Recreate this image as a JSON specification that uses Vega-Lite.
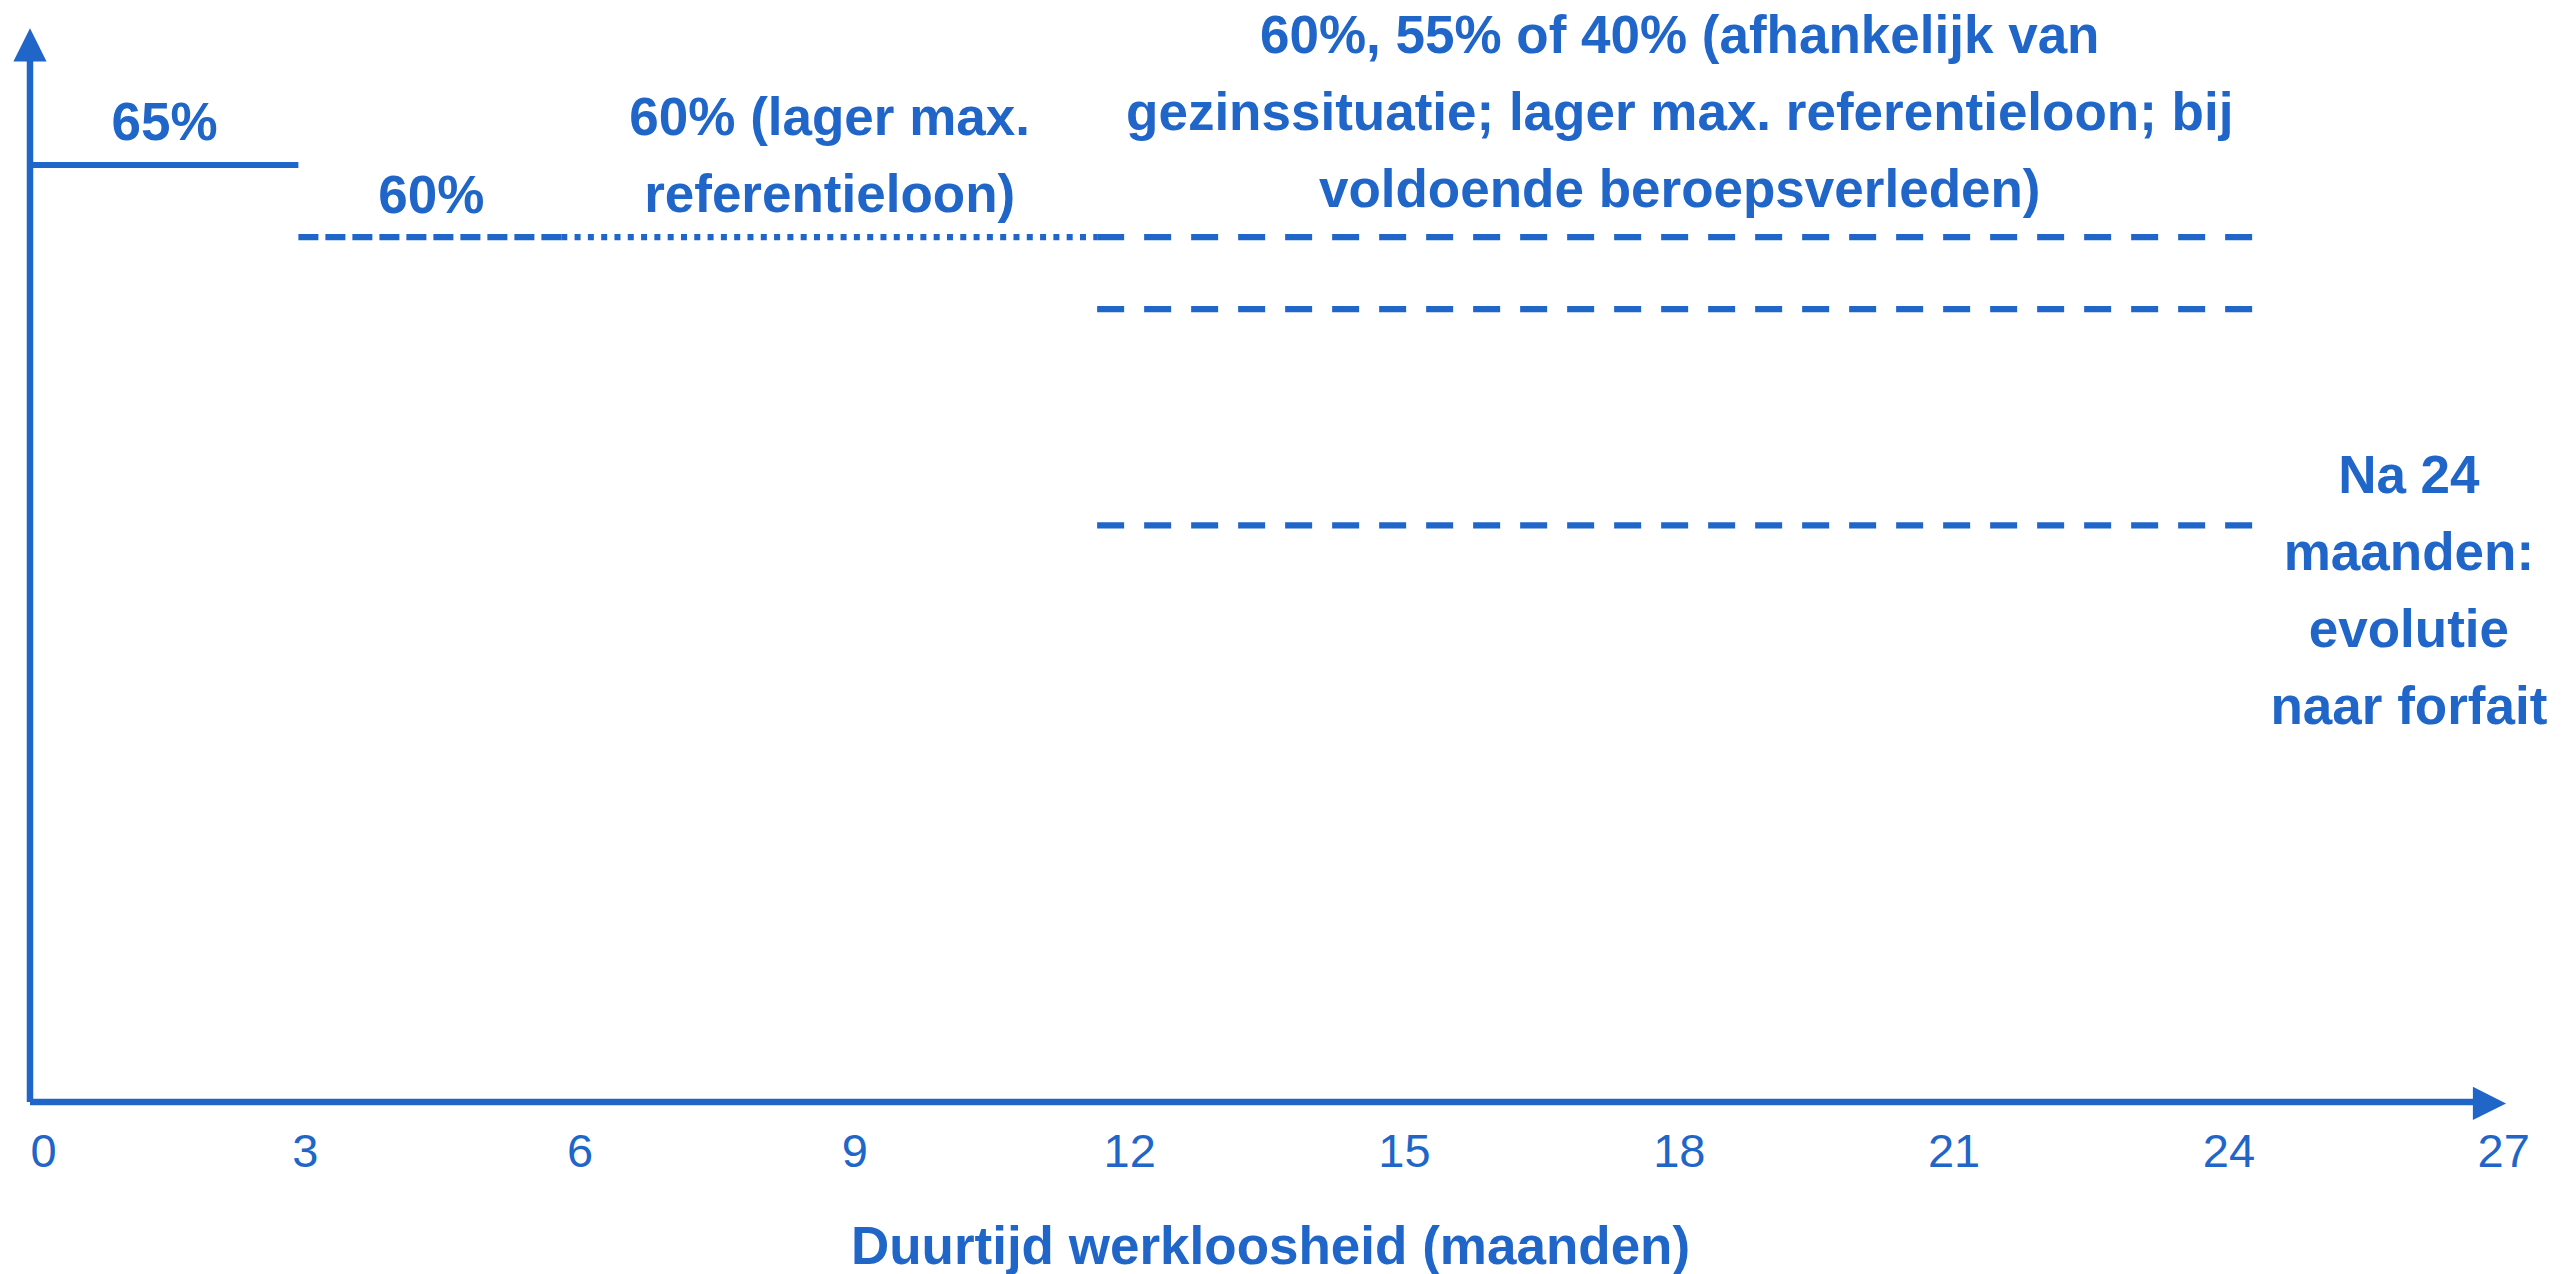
{
  "$schema": "https://vega.github.io/schema/vega-lite/v6.json",
  "width": 2575,
  "height": 1274,
  "autosize": {"type": "none"},
  "padding": 0,
  "background": "white",
  "config": {"view": {"stroke": null}, "font": "Liberation Sans"},
  "datasets": {
    "segments": [
      {"part": "x-as", "style": "solid", "x": 0, "x2": 26.7, "y": 0, "y2": 0, "w": "axis"},
      {"part": "y-as", "style": "solid", "x": 0, "x2": 0, "y": 0, "y2": 72.5, "w": "axis"},
      {"part": "0-3 maanden", "style": "solid", "x": 0, "x2": 2.93, "y": 65, "y2": 65, "w": "line"},
      {"part": "3-6 maanden", "style": "dash", "x": 2.93, "x2": 5.8, "y": 60, "y2": 60, "w": "line"},
      {"part": "6-12 maanden", "style": "dot", "x": 5.8, "x2": 11.65, "y": 60, "y2": 60, "w": "line"},
      {"part": "12-24 maanden 60%", "style": "dash2", "x": 11.65, "x2": 24.28, "y": 60, "y2": 60, "w": "line"},
      {"part": "12-24 maanden 55%", "style": "dash2", "x": 11.65, "x2": 24.28, "y": 55, "y2": 55, "w": "line"},
      {"part": "12-24 maanden 40%", "style": "dash2", "x": 11.65, "x2": 24.28, "y": 40, "y2": 40, "w": "line"}
    ],
    "arrows": [
      {"dir": "up", "x": 0, "y": 73.33},
      {"dir": "right", "x": 26.85, "y": -0.1}
    ],
    "labels": [
      {"x": 1.47, "y": 66.74, "text": "65%"},
      {"x": 4.38, "y": 61.67, "text": "60%"},
      {"x": 8.73, "y": 67.08, "text": "60% (lager max.\nreferentieloon)"},
      {"x": 18.01, "y": 72.77, "text": "60%, 55% of 40% (afhankelijk van\ngezinssituatie; lager max. referentieloon; bij\nvoldoende beroepsverleden)"},
      {"x": 25.97, "y": 42.25, "text": "Na 24\nmaanden:\nevolutie\nnaar forfait"}
    ]
  },
  "layer": [
    {
      "data": {"name": "segments"},
      "mark": {"type": "rule", "color": "#2065c8", "strokeCap": "butt"},
      "encoding": {
        "x": {
          "field": "x",
          "type": "quantitative",
          "scale": {"domain": [-0.3275, 27.7838], "nice": false, "zero": false},
          "axis": {
            "orient": "bottom",
            "offset": -172,
            "values": [0, 3, 6, 9, 12, 15, 18, 21, 24, 27],
            "format": "d",
            "domain": false,
            "ticks": false,
            "grid": false,
            "labelPadding": 27,
            "labelBaseline": "top",
            "labelAlign": {"condition": {"test": "datum.value === 0", "value": "left"}, "value": "center"},
            "labelFont": "Liberation Sans",
            "labelFontSize": 47,
            "labelColor": "#2065c8",
            "labelFlush": false,
            "labelOverlap": false,
            "title": "Duurtijd werkloosheid (maanden)",
            "titleFont": "Liberation Sans",
            "titleFontSize": 53,
            "titleFontWeight": "bold",
            "titleColor": "#2065c8",
            "titleBaseline": "alphabetic",
            "titleX": 1270,
            "titleY": 161
          }
        },
        "x2": {"field": "x2"},
        "y": {
          "field": "y",
          "type": "quantitative",
          "scale": {"domain": [-11.932, 76.448], "nice": false, "zero": false},
          "axis": null
        },
        "y2": {"field": "y2"},
        "strokeDash": {
          "field": "style",
          "type": "nominal",
          "scale": {"domain": ["solid", "dash", "dot", "dash2"], "range": [[1, 0], [20, 7], [6, 7.3], [27, 20]]},
          "legend": null
        },
        "strokeWidth": {
          "field": "w",
          "type": "nominal",
          "scale": {"domain": ["axis", "line"], "range": [6.5, 6.2]},
          "legend": null
        }
      }
    },
    {
      "data": {"name": "arrows"},
      "mark": {"type": "point", "filled": true, "color": "#2065c8", "opacity": 1, "size": 1100},
      "encoding": {
        "x": {"field": "x", "type": "quantitative"},
        "y": {"field": "y", "type": "quantitative"},
        "shape": {
          "field": "dir",
          "type": "nominal",
          "scale": {"domain": ["up", "right"], "range": ["M0,-1L1,1L-1,1Z", "M1,0L-1,-1L-1,1Z"]},
          "legend": null
        }
      }
    },
    {
      "data": {"name": "labels"},
      "mark": {
        "type": "text",
        "align": "center",
        "baseline": "alphabetic",
        "lineBreak": "\n",
        "lineHeight": 77,
        "font": "Liberation Sans",
        "fontSize": 53,
        "fontWeight": "bold",
        "color": "#2065c8"
      },
      "encoding": {
        "x": {"field": "x", "type": "quantitative"},
        "y": {"field": "y", "type": "quantitative"},
        "text": {"field": "text", "type": "nominal"}
      }
    }
  ]
}
